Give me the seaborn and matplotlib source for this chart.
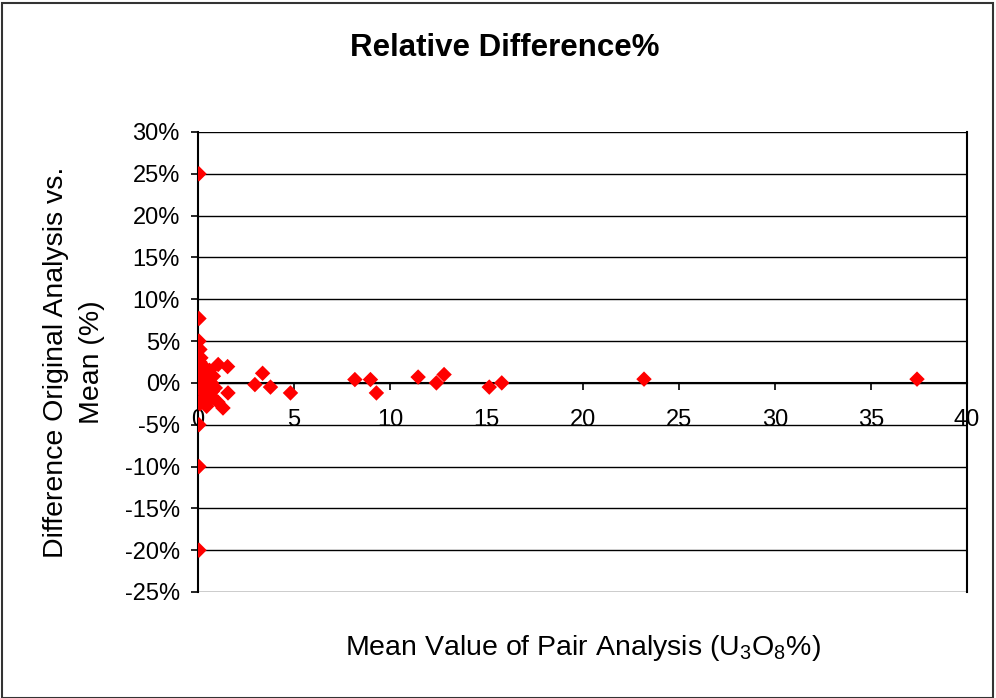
import numpy as np
import pandas as pd
import seaborn as sns
import matplotlib
matplotlib.use("Agg")
import matplotlib.pyplot as plt
from matplotlib.ticker import FuncFormatter, MultipleLocator
from matplotlib.patches import Rectangle

# mean value of pair analysis (U3O8 %) and relative difference (%)
mean_value = [0.05, 0.05, 0.05, 0.1, 0.15, 0.1, 0.2, 0.3, 0.15, 0.4,
              0.6, 0.25, 0.5, 0.8, 0.1, 0.35, 0.7, 0.2, 0.55, 0.9,
              0.15, 0.4, 0.75, 0.8, 0.3, 0.6, 0.1, 0.45, 0.05, 0.05,
              0.05, 1.05, 1.54, 1.56, 1.3, 1.04, 2.96, 3.36, 3.77, 4.81,
              8.16, 8.97, 9.28, 11.45, 12.4, 12.8, 15.15, 15.8, 23.2, 37.4]
rel_diff = [25.0, 7.7, 5.0, 4.0, 3.0, 2.5, 2.2, 1.8, 1.5, 1.2,
            1.5, 0.8, 0.5, 0.8, 0.3, 0.1, 0.0, -0.3, -0.5, -0.6,
            -0.9, -1.2, -1.0, -1.8, -1.8, -2.0, -2.5, -2.8, -5.0, -10.0,
            -20.0, 2.2, 1.95, -1.2, -3.0, -2.3, -0.2, 1.15, -0.5, -1.2,
            0.4, 0.4, -1.2, 0.7, 0.0, 1.0, -0.5, 0.0, 0.45, 0.45]

df = pd.DataFrame({"mean": mean_value, "diff": rel_diff})

sns.set_theme(style="white")
plt.rcParams['font.family'] = ['Liberation Sans', 'DejaVu Sans']
plt.rcParams['text.color'] = 'black'
plt.rcParams['axes.labelcolor'] = 'black'
plt.rcParams['xtick.color'] = 'black'
plt.rcParams['ytick.color'] = 'black'
plt.rcParams['mathtext.fontset'] = 'custom'
plt.rcParams['mathtext.rm'] = 'Liberation Sans'
plt.rcParams['mathtext.it'] = 'Liberation Sans'

fig = plt.figure(figsize=(9.96, 6.98), dpi=100)
ax = fig.add_axes([198/996, 1 - 592/698, (967 - 198)/996, (592 - 132)/698])

sns.scatterplot(data=df, x="mean", y="diff", marker="D", s=62,
                color="#FF0000", edgecolor="none", linewidth=0, ax=ax, zorder=3)

ax.set_xlim(0, 40)
ax.set_ylim(-25, 30)
ax.xaxis.set_major_locator(MultipleLocator(5))
ax.yaxis.set_major_locator(MultipleLocator(5))
ax.yaxis.set_major_formatter(FuncFormatter(lambda v, p: f"{v:.0f}%"))

ax.grid(axis="y", color="black", linewidth=1)
ax.set_axisbelow(True)

ax.spines["bottom"].set_position(("data", 0))
for s in ["left", "bottom", "right"]:
    ax.spines[s].set_color("black")
    ax.spines[s].set_linewidth(1.5)
ax.spines["top"].set_visible(False)

ax.tick_params(axis="x", direction="out", length=5, width=1.2,
               labelsize=17, pad=14, bottom=True)
ax.tick_params(axis="y", direction="out", length=5, width=1.2,
               labelsize=17, pad=8, left=True)

ax.set_xlabel("")
ax.set_ylabel("Difference Original Analysis vs.\nMean (%)", fontsize=20.5,
              labelpad=14, linespacing=1.5)

fig.text(583/996, 1 - 648/698, "Mean Value of Pair Analysis (U$_3$O$_8$%)",
         ha="center", va="center", fontsize=20.5)
fig.text(505/996, 1 - 48/698, "Relative Difference%", ha="center", va="center",
         fontsize=22.5, fontweight="bold")

fig.patches.append(Rectangle((2/996, 0), 991/996, 1 - 3/698, transform=fig.transFigure,
                             fill=False, edgecolor="#333333", linewidth=1.5))

fig.savefig("out.png", dpi=100)
